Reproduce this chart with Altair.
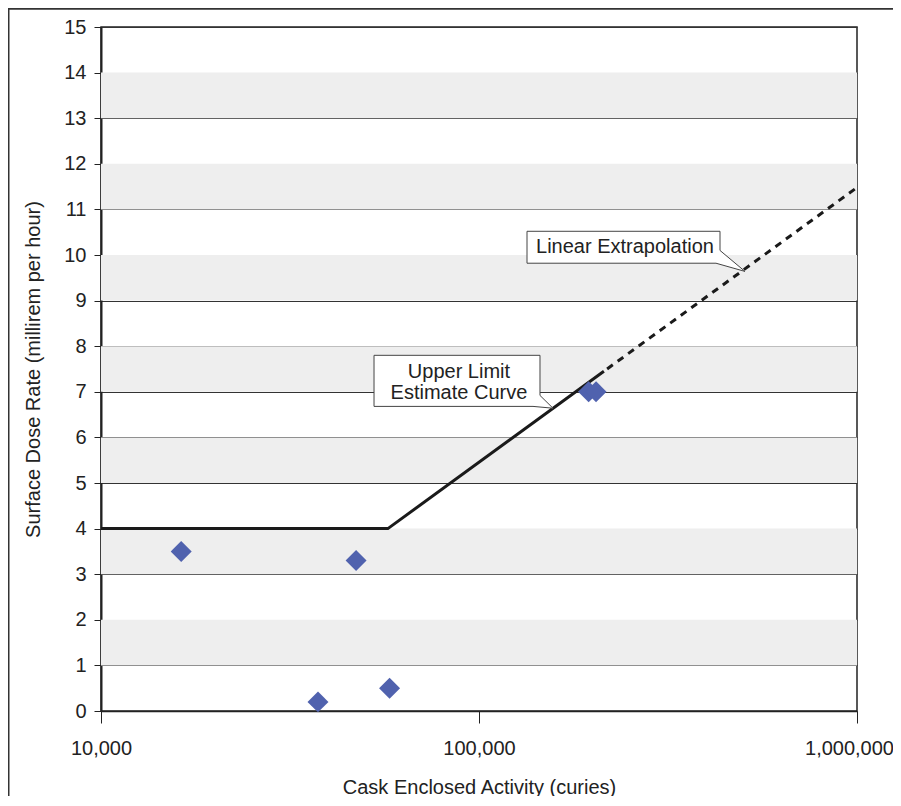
import altair as alt
import pandas as pd

# ---- data ----
activity = [16300, 37500, 47300, 58000, 195000, 204000]   # curies
dose = [3.5, 0.2, 3.3, 0.5, 7.0, 7.0]                    # millirem per hour

curve_x = [10000, 57400, 214000]
curve_y = [4.0, 4.0, 7.45]

extrap_x = [214000, 1000000]
extrap_y = [7.45, 11.48]

band_lo = [1, 3, 5, 7, 9, 11, 13]
band_hi = [2, 4, 6, 8, 10, 12, 14]

y_ticks = list(range(0, 16))
x_ticks = [10000, 100000, 1000000]

# callout outlines (data units)
ul_x = [52760, 145000, 145000, 156960, 138950, 52760, 52760]
ul_y = [7.80, 7.80, 6.92, 6.64, 6.68, 6.68, 7.80]
le_x = [133970, 434100, 434100, 505400, 423600, 133970, 133970]
le_y = [10.52, 10.52, 10.10, 9.64, 9.82, 9.82, 10.52]

ul_text = ["Upper Limit", "Estimate Curve"]
ul_text_x = [88500, 88500]
ul_text_y = [7.44, 6.98]
le_text = ["Linear Extrapolation"]
le_text_x = [243300]
le_text_y = [10.18]

FONT = "Liberation Sans"
FS = 20
W, H = 756, 684

xscale = alt.Scale(type="log", domain=[10000, 1000000], nice=False)
yscale = alt.Scale(domain=[0, 15], nice=False, zero=False)

xaxis = alt.Axis(values=x_ticks, format=",", title="Cask Enclosed Activity (curies)",
                 grid=False, tickSize=12, labelPadding=15, titlePadding=19,
                 labelFlush=False, labelOverlap=False, domainColor="#222",
                 labelOffset=alt.condition("datum.value >= 1000000", alt.value(-8), alt.value(0)),
                 domainWidth=1.5, tickColor="#222", tickWidth=1)
yaxis = alt.Axis(values=y_ticks, title="Surface Dose Rate (millirem per hour)",
                 grid=True, gridColor="#333", gridWidth=1.1, tickSize=7,
                 labelPadding=8, titlePadding=20, domainColor="#222",
                 domainWidth=2, tickColor="#222", tickWidth=1)

bands = pd.DataFrame({"lo": band_lo, "hi": band_hi})
band_layer = alt.Chart(bands).mark_rect(color="#EEEEEE").encode(
    x=alt.value(0), x2=alt.value(W),
    y=alt.Y("lo:Q", scale=yscale, axis=yaxis),
    y2="hi:Q",
)

frame = alt.Chart(pd.DataFrame({"a": [0]})).mark_rect(
    fillOpacity=0, stroke="#333", strokeWidth=2
).encode(x=alt.value(-92.5), x2=alt.value(1200), y=alt.value(-18.3), y2=alt.value(1200))

pts = pd.DataFrame({"act": activity, "dose": dose})
point_layer = alt.Chart(pts).mark_point(
    shape="diamond", filled=True, size=440, color="#5062AE", opacity=1
).encode(
    x=alt.X("act:Q", scale=xscale, axis=xaxis),
    y=alt.Y("dose:Q", scale=yscale),
)

curve = pd.DataFrame({"x": curve_x, "y": curve_y, "o": list(range(len(curve_x)))})
curve_layer = alt.Chart(curve).mark_line(color="#1a1a1a", strokeWidth=3).encode(
    x=alt.X("x:Q", scale=xscale), y=alt.Y("y:Q", scale=yscale), order="o:Q")

ext = pd.DataFrame({"x": extrap_x, "y": extrap_y, "o": list(range(len(extrap_x)))})
ext_layer = alt.Chart(ext).mark_line(color="#1a1a1a", strokeWidth=3,
                                     strokeDash=[7, 6], strokeDashOffset=-4).encode(
    x=alt.X("x:Q", scale=xscale), y=alt.Y("y:Q", scale=yscale), order="o:Q")


def callout(xs, ys):
    df = pd.DataFrame({"x": xs, "y": ys, "o": list(range(len(xs)))})
    return alt.Chart(df).mark_line(fill="white", stroke="#444", strokeWidth=1,
                                   interpolate="linear").encode(
        x=alt.X("x:Q", scale=xscale), y=alt.Y("y:Q", scale=yscale), order="o:Q")


def labels(txt, xs, ys):
    df = pd.DataFrame({"t": txt, "x": xs, "y": ys})
    return alt.Chart(df).mark_text(font=FONT, fontSize=FS, color="#222",
                                   align="center", baseline="middle").encode(
        x=alt.X("x:Q", scale=xscale), y=alt.Y("y:Q", scale=yscale), text="t:N")


chart = alt.layer(
    band_layer, frame, curve_layer, ext_layer, point_layer,
    callout(ul_x, ul_y), labels(ul_text, ul_text_x, ul_text_y),
    callout(le_x, le_y), labels(le_text, le_text_x, le_text_y),
).properties(
    width=W, height=H, autosize="none",
    padding={"left": 93, "top": 19, "right": 36, "bottom": 85},
    background="white",
).configure_view(
    stroke="#222", strokeWidth=1.5
).configure_axis(
    labelFont=FONT, titleFont=FONT, labelFontSize=FS, titleFontSize=FS,
    labelColor="#222", titleColor="#222", titleFontWeight="normal",
)

chart.save("out.html", embed_options={"renderer": "svg", "actions": False})
